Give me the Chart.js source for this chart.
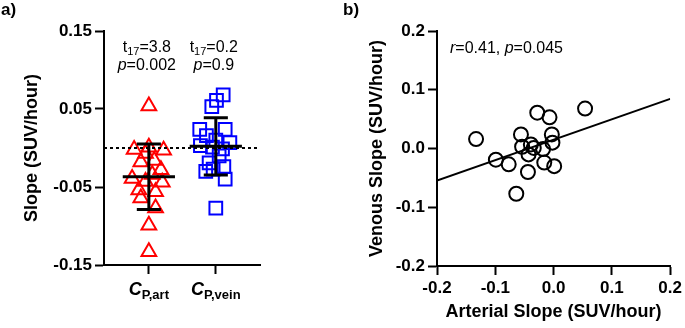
<!DOCTYPE html>
<html>
<head>
<meta charset="utf-8">
<script src="https://cdn.jsdelivr.net/npm/chart.js@4.4.1/dist/chart.umd.min.js"></script>
<style>
  body { margin: 0; background: #fff; }
  #wrap { position: relative; width: 685px; height: 328px; }
  #chartA { position: absolute; left: 0; top: 0; }
  #chartB { position: absolute; left: 340px; top: 0; }
</style>
</head>
<body>
<div id="wrap">
  <canvas id="chartA" width="340" height="328"></canvas>
  <canvas id="chartB" width="345" height="328"></canvas>
</div>
<script>
// slopes per subject (SUV/hour)
const arterialSlope = [-0.133, -0.099, -0.077, -0.064, -0.056, -0.054, -0.044, -0.043, -0.039,
                       -0.034, -0.028, -0.018, -0.016, -0.007, -0.003, -0.002, 0.001, 0.054];
const venousSlope   = [0.016, -0.019, -0.027, -0.077, 0.024, 0.003, -0.040, -0.010, 0.007,
                       0.001, 0.061, -0.001, -0.024, 0.053, 0.024, 0.010, -0.030, 0.068];
// horizontal scatter of the points in panel a (category units)
const artJitter  = [0, 0, 0.1, -0.12, 0.1, -0.15, 0.2, -0.05, -0.25, 0.05, 0.18, -0.12, 0.08, -0.05, 0.22, -0.22, 0, 0];
const veinJitter = [-0.14, -0.1, -0.04, 0, -0.24, -0.23, 0.14, 0.05, 0.21, -0.05, 0.01, 0.1, 0.12, -0.06, 0.14, 0, -0.15, 0.11];

const groupNames = ['art', 'vein'];
const tStats = ['3.8', '0.2'];
const pStats = ['0.002', '0.9'];
const corrText = { r: '0.41', p: '0.045' };

const yTicksA = [-0.15, -0.05, 0.05, 0.15];
const ticksB = [-0.2, -0.1, 0, 0.1, 0.2];

Chart.defaults.font.family = '"Liberation Sans", Arial, sans-serif';
Chart.defaults.color = '#000';

const FONT = '"Liberation Sans", Arial, sans-serif';

function mean(a) { return a.reduce((s, v) => s + v, 0) / a.length; }
function sd(a) {
  const m = mean(a);
  return Math.sqrt(a.reduce((s, v) => s + (v - m) * (v - m), 0) / (a.length - 1));
}

// mean + SD bars as one broken line
function errorBar(cx, vals) {
  const m = mean(vals), s = sd(vals);
  return [
    {x: cx - 0.18, y: m + s}, {x: cx + 0.18, y: m + s}, {x: cx, y: null},
    {x: cx, y: m + s}, {x: cx, y: m - s}, {x: cx, y: null},
    {x: cx - 0.18, y: m - s}, {x: cx + 0.18, y: m - s}, {x: cx, y: null},
    {x: cx - 0.39, y: m}, {x: cx + 0.39, y: m}
  ];
}

function drawRuns(ctx, runs, x, y, align) {
  let w = 0;
  runs.forEach(r => { ctx.font = r.font; w += ctx.measureText(r.t).width; });
  let cx = align === 'center' ? x - w / 2 : x;
  ctx.textAlign = 'left';
  ctx.textBaseline = 'alphabetic';
  ctx.fillStyle = '#000';
  runs.forEach(r => {
    ctx.font = r.font;
    ctx.fillText(r.t, cx, y + (r.dy || 0));
    cx += ctx.measureText(r.t).width;
  });
}

function axisStyle() {
  return {
    grid: { drawOnChartArea: false, drawTicks: true, tickLength: 9, tickWidth: 2, tickColor: '#000' },
    border: { display: true, color: '#000', width: 2 }
  };
}

const xMinA = 0.33, xMaxA = 2.66;

const labelsA = {
  id: 'labelsA',
  afterDraw(chart) {
    const ctx = chart.ctx;
    const xs = chart.scales.x;
    ctx.save();
    drawRuns(ctx, [{t: 'a)', font: 'bold 17px ' + FONT}], 1, 15, 'left');
    groupNames.forEach((g, i) => {
      const px = xs.getPixelForValue(i + 1);
      drawRuns(ctx, [
        {t: 'C', font: 'italic bold 18px ' + FONT},
        {t: 'P,' + g, font: 'bold 13px ' + FONT, dy: 4}
      ], px, 295, 'center');
      drawRuns(ctx, [
        {t: 't', font: '16px ' + FONT},
        {t: '17', font: '11px ' + FONT, dy: 3},
        {t: '=' + tStats[i], font: '16px ' + FONT}
      ], px - 2, 52, 'center');
      drawRuns(ctx, [
        {t: 'p', font: 'italic 16px ' + FONT},
        {t: '=' + pStats[i], font: '16px ' + FONT}
      ], px - 2, 70, 'center');
    });
    ctx.restore();
  }
};

new Chart(document.getElementById('chartA'), {
  type: 'scatter',
  data: {
    datasets: [
      { data: errorBar(1, arterialSlope), showLine: true, spanGaps: false, borderColor: '#000',
        borderWidth: 3, pointRadius: 0 },
      { data: errorBar(2, venousSlope), showLine: true, spanGaps: false, borderColor: '#000',
        borderWidth: 3, pointRadius: 0 },
      { data: [{x: xMinA, y: 0}, {x: xMaxA, y: 0}], showLine: true, borderColor: '#000',
        borderWidth: 2, borderDash: [3, 3], pointRadius: 0 },
      { data: arterialSlope.map((v, i) => ({x: 1 + artJitter[i], y: v})),
        pointStyle: 'triangle', pointRadius: 8.5, borderColor: '#ff0000', borderWidth: 2,
        backgroundColor: 'rgba(0,0,0,0)' },
      { data: venousSlope.map((v, i) => ({x: 2 + veinJitter[i], y: v})),
        pointStyle: 'rect', pointRadius: 9, borderColor: '#0000ff', borderWidth: 2,
        backgroundColor: 'rgba(0,0,0,0)' }
    ]
  },
  options: {
    responsive: false,
    animation: false,
    layout: { padding: { left: 21, right: 80, top: 31, bottom: 0 } },
    plugins: { legend: { display: false }, tooltip: { enabled: false } },
    scales: {
      x: Object.assign(axisStyle(), {
        type: 'linear', min: xMinA, max: xMaxA,
        afterBuildTicks: s => { s.ticks = [{value: 1}, {value: 2}]; },
        ticks: { display: false },
        afterFit: s => { s.height = 63; }
      }),
      y: Object.assign(axisStyle(), {
        min: -0.15, max: 0.15,
        afterBuildTicks: s => { s.ticks = yTicksA.map(v => ({value: v})); },
        ticks: { callback: v => v.toFixed(2), font: { size: 17, weight: 'bold' }, padding: 3 },
        title: { display: true, text: 'Slope (SUV/hour)', font: { size: 18, weight: 'bold' }, padding: 0 },
        afterFit: s => { s.width = 83; }
      })
    }
  },
  plugins: [labelsA]
});

// least squares fit for panel b
const mx = mean(arterialSlope), my = mean(venousSlope);
let sxy = 0, sxx = 0;
arterialSlope.forEach((x, i) => { sxy += (x - mx) * (venousSlope[i] - my); sxx += (x - mx) * (x - mx); });
const fitSlope = sxy / sxx;
const fitIntercept = my - fitSlope * mx;

const labelsB = {
  id: 'labelsB',
  afterDraw(chart) {
    const ctx = chart.ctx;
    ctx.save();
    drawRuns(ctx, [{t: 'b)', font: 'bold 17px ' + FONT}], 3, 15, 'left');
    drawRuns(ctx, [
      {t: 'r', font: 'italic 16px ' + FONT},
      {t: '=' + corrText.r + ', ', font: '16px ' + FONT},
      {t: 'p', font: 'italic 16px ' + FONT},
      {t: '=' + corrText.p, font: '16px ' + FONT}
    ], 110, 53, 'left');
    ctx.restore();
  }
};

new Chart(document.getElementById('chartB'), {
  type: 'scatter',
  data: {
    datasets: [
      { data: [-0.2, 0.2].map(x => ({x: x, y: fitIntercept + fitSlope * x})), showLine: true,
        borderColor: '#000', borderWidth: 2, pointRadius: 0 },
      { data: arterialSlope.map((x, i) => ({x: x, y: venousSlope[i]})),
        pointStyle: 'circle', pointRadius: 7, borderColor: '#000', borderWidth: 2,
        backgroundColor: 'rgba(0,0,0,0)' }
    ]
  },
  options: {
    responsive: false,
    animation: false,
    layout: { padding: { left: 26, right: 13, top: 31, bottom: 5 } },
    plugins: { legend: { display: false }, tooltip: { enabled: false } },
    scales: {
      x: Object.assign(axisStyle(), {
        type: 'linear', min: -0.2, max: 0.2,
        afterBuildTicks: s => { s.ticks = ticksB.map(v => ({value: v})); },
        ticks: { callback: v => v.toFixed(1), font: { size: 17, weight: 'bold' }, padding: 3 },
        title: { display: true, text: 'Arterial Slope (SUV/hour)', font: { size: 18, weight: 'bold' }, padding: 0 },
        afterFit: s => { s.height = 57; }
      }),
      y: Object.assign(axisStyle(), {
        min: -0.2, max: 0.2,
        afterBuildTicks: s => { s.ticks = ticksB.map(v => ({value: v})); },
        ticks: { callback: v => v.toFixed(1), font: { size: 17, weight: 'bold' }, padding: 3 },
        title: { display: true, text: 'Venous Slope (SUV/hour)', font: { size: 18, weight: 'bold' }, padding: 0 },
        afterFit: s => { s.width = 71; }
      })
    }
  },
  plugins: [labelsB]
});
</script>
</body>
</html>
